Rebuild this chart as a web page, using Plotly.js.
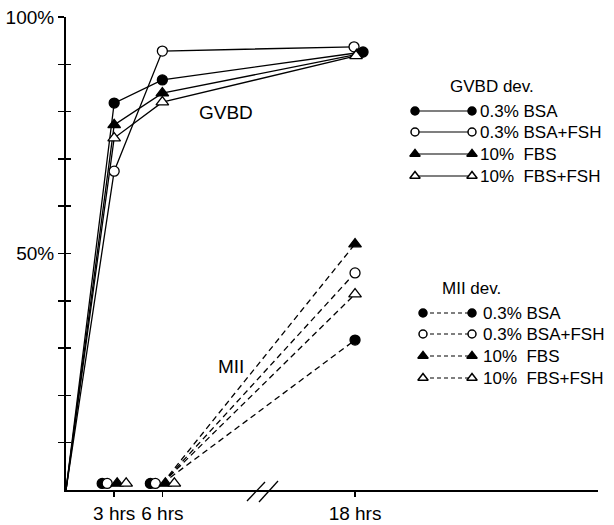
<!DOCTYPE html>
<html>
<head>
<meta charset="utf-8">
<script src="https://cdn.plot.ly/plotly-3.0.1.min.js"></script>
<style>
  html, body { margin: 0; padding: 0; background: #fff; }
  #chart { width: 614px; height: 525px; }
</style>
</head>
<body>
<div id="chart"></div>
<script>
// ---------------- DATA ----------------
const hours = [3, 6, 18];
const hourLabels = ['3 hrs', '6 hrs', '18 hrs'];
const startHour = 0;
const startValue = 0;
const seriesLabels = ['0.3% BSA', '0.3% BSA+FSH', '10%\u00a0\u00a0FBS', '10%\u00a0\u00a0FBS+FSH'];

const gvbdBSA    = [81.8, 86.7, 92.6];
const gvbdBSAFSH = [67.4, 92.8, 93.7];
const gvbdFBS    = [77.2, 83.9, 92.1];
const gvbdFBSFSH = [74.4, 82.0, 91.8];

const miiBSA    = [1.4, 1.4, 31.7];
const miiBSAFSH = [1.4, 1.4, 45.9];
const miiFBS    = [1.4, 1.4, 52.0];
const miiFBSFSH = [1.4, 1.4, 41.4];

const yTickVals = [10, 20, 30, 40, 50, 60, 70, 80, 90, 100];
const yTickText = ['', '', '', '', '50%', '', '', '', '', '100%'];

// ---------------- STYLE ----------------
const FONT = 'Liberation Sans, Arial, Helvetica, sans-serif';
const M = { l: 66, r: 16, t: 17, b: 35 };
const W = 614, H = 525;
const plotW = W - M.l - M.r, plotH = H - M.t - M.b;
const X_RANGE = [0, 33.13];
const pxPerHour = plotW / (X_RANGE[1] - X_RANGE[0]);

const gvbdSeries = [gvbdBSA, gvbdBSAFSH, gvbdFBS, gvbdFBSFSH];
const miiSeries = [miiBSA, miiBSAFSH, miiFBS, miiFBSFSH];

const styles = [
  { symbol: 'circle',      fill: '#000000', size: 10, miiNudge: -12, endNudge: 8 },
  { symbol: 'circle',      fill: '#ffffff', size: 10, miiNudge: -7,  endNudge: -1 },
  { symbol: 'triangle-up', fill: '#000000', size: 11, miiNudge: 3,   endNudge: 2 },
  { symbol: 'triangle-up', fill: '#ffffff', size: 11, miiNudge: 12,  endNudge: 1 }
];

const traces = [];

// dummy trace to activate yaxis2 (crossing ticks)
traces.push({ type: 'scatter', mode: 'markers', x: [0], y: [0], yaxis: 'y2',
  marker: { size: 1, opacity: 0 }, showlegend: false, hoverinfo: 'skip' });

// GVBD: solid lines from origin
const gvbdX = gvbdSeries.map((vals, i) =>
  hours.map((h, k) => h + (k === hours.length - 1 ? styles[i].endNudge / pxPerHour : 0)));
gvbdSeries.forEach((vals, i) => {
  traces.push({
    type: 'scatter', mode: 'lines', x: [startHour].concat(gvbdX[i]), y: [startValue].concat(vals),
    showlegend: false, cliponaxis: false, hoverinfo: 'skip',
    line: { color: '#000', width: 1.3 }
  });
});
gvbdSeries.forEach((vals, i) => {
  const st = styles[i];
  traces.push({
    type: 'scatter', mode: 'markers', x: gvbdX[i], y: vals,
    showlegend: false, cliponaxis: false, hoverinfo: 'skip',
    marker: { symbol: st.symbol, color: st.fill, opacity: 1, size: st.size,
              line: { color: '#000', width: 1.3 } }
  });
});

// MII: dashed lines from 6 hrs to 18 hrs
miiSeries.forEach((vals) => {
  traces.push({
    type: 'scatter', mode: 'lines', x: hours.slice(1), y: vals.slice(1), showlegend: false,
    cliponaxis: false, hoverinfo: 'skip',
    line: { color: '#000', width: 1.3, dash: '6px,4px' }
  });
});
miiSeries.forEach((vals, i) => {
  const st = styles[i];
  const xs = hours.map((h, k) => h + (k < hours.length - 1 ? st.miiNudge / pxPerHour : 0));
  traces.push({
    type: 'scatter', mode: 'markers', x: xs, y: vals, showlegend: false,
    cliponaxis: false, hoverinfo: 'skip',
    marker: { symbol: st.symbol, color: st.fill, opacity: 1, size: st.size,
              line: { color: '#000', width: 1.3 } }
  });
});

// ---------------- custom legend (pixel overlay axes) ----------------
const legendGroups = [
  { title: 'GVBD dev.', titleX: 492, titleY: 86, rows: [111, 132, 154, 176], x0: 415, x1: 472, textX: 478, dash: 'solid' },
  { title: 'MII dev.',  titleX: 471, titleY: 288, rows: [313, 334, 356, 378], x0: 423, x1: 472, textX: 481, dash: '4px,3px' }
];
const annotations = [];
legendGroups.forEach(g => {
  annotations.push({ xref: 'x3', yref: 'y3', x: g.titleX, y: g.titleY, text: g.title, showarrow: false,
    xanchor: 'center', yanchor: 'middle', font: { family: FONT, size: 17, color: '#000' } });
  g.rows.forEach((ry, i) => {
    const st = styles[i];
    traces.push({
      type: 'scatter', mode: 'lines', xaxis: 'x3', yaxis: 'y3',
      x: [g.x0, g.x1], y: [ry, ry], showlegend: false, cliponaxis: false, hoverinfo: 'skip',
      line: { color: '#000', width: 1.1, dash: g.dash }
    });
    traces.push({
      type: 'scatter', mode: 'markers', xaxis: 'x3', yaxis: 'y3',
      x: [g.x0, g.x1], y: [ry, ry], showlegend: false, cliponaxis: false, hoverinfo: 'skip',
      marker: { symbol: st.symbol, color: st.fill, opacity: 1, size: st.symbol === 'circle' ? 8 : 9,
                line: { color: '#000', width: 1.5 } }
    });
    annotations.push({ xref: 'x3', yref: 'y3', x: g.textX, y: ry, text: seriesLabels[i], showarrow: false,
      xanchor: 'left', yanchor: 'middle', font: { family: FONT, size: 17, color: '#000' } });
  });
});

// in-plot labels
annotations.push({ xref: 'x3', yref: 'y3', x: 226, y: 112, text: 'GVBD', showarrow: false,
  xanchor: 'center', yanchor: 'middle', font: { family: FONT, size: 19, color: '#000' } });
annotations.push({ xref: 'x3', yref: 'y3', x: 231, y: 366, text: 'MII', showarrow: false,
  xanchor: 'center', yanchor: 'middle', font: { family: FONT, size: 19, color: '#000' } });

// axis-break marks (pixel -> paper)
const px = v => (v - M.l) / plotW;
const py = v => (H - M.b - v) / plotH;
const shapes = [
  { type: 'line', xref: 'paper', yref: 'paper', x0: px(247), y0: py(501), x1: px(265), y1: py(482), line: { color: '#000', width: 1.3 } },
  { type: 'line', xref: 'paper', yref: 'paper', x0: px(259), y0: py(502), x1: px(278), y1: py(481), line: { color: '#000', width: 1.3 } }
];

const layout = {
  width: W, height: H, margin: M,
  paper_bgcolor: '#fff', plot_bgcolor: '#fff',
  font: { family: FONT, color: '#000' },
  showlegend: false,
  xaxis: {
    range: X_RANGE, showgrid: false, zeroline: false,
    showline: true, linecolor: '#000', linewidth: 2,
    tickmode: 'array', tickvals: hours, ticktext: hourLabels,
    ticks: 'outside', ticklen: 5, tickwidth: 1.5, tickcolor: '#000',
    tickfont: { family: FONT, size: 19, color: '#000' }
  },
  yaxis: {
    range: [0, 100], showgrid: false, zeroline: false,
    showline: true, linecolor: '#000', linewidth: 2,
    tickmode: 'array', tickvals: yTickVals, ticktext: yTickText,
    ticks: 'outside', ticklen: 6, tickwidth: 1.5, tickcolor: '#000',
    tickfont: { family: FONT, size: 19, color: '#000' }
  },
  yaxis2: {
    overlaying: 'y', side: 'left', anchor: 'x', range: [0, 100],
    showgrid: false, zeroline: false, showline: false, showticklabels: false,
    tickmode: 'array', tickvals: yTickVals,
    ticks: 'inside', ticklen: 5, tickwidth: 1.5, tickcolor: '#000'
  },
  xaxis3: { overlaying: 'x', range: [M.l, W - M.r], visible: false, fixedrange: true },
  yaxis3: { overlaying: 'y', range: [H - M.b, M.t], visible: false, fixedrange: true },
  annotations: annotations,
  shapes: shapes
};

Plotly.newPlot('chart', traces, layout, { displayModeBar: false, staticPlot: true });
</script>
</body>
</html>
